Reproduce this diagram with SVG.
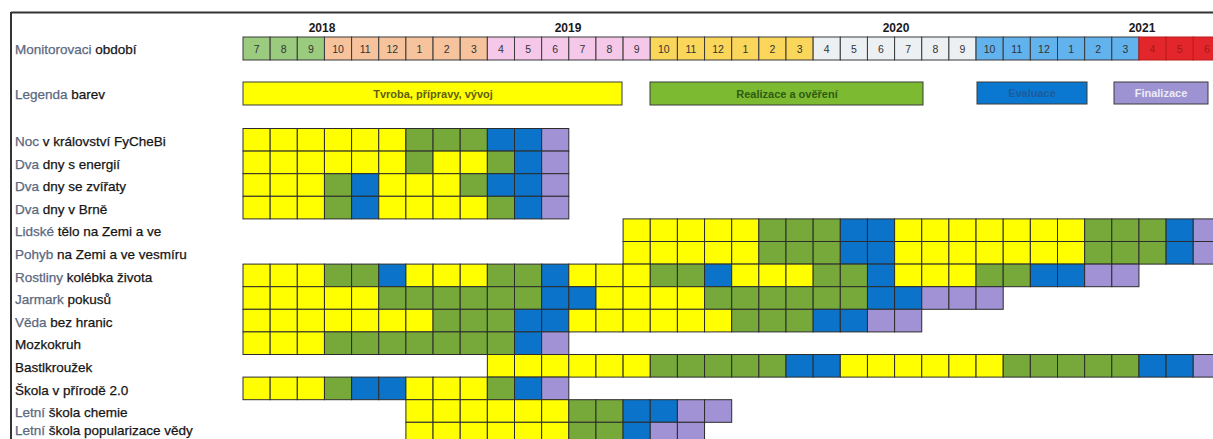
<svg xmlns="http://www.w3.org/2000/svg" width="1213" height="439" viewBox="0 0 1213 439">
<style>
text{font-family:"Liberation Sans",Arial,sans-serif}
.lbl{font-size:13.5px;fill:#151515;stroke:#151515;stroke-width:0.25}
.fw{fill:#5a6880;stroke:#5a6880}
.yr{font-size:12px;font-weight:bold;fill:#1a1a1a;text-anchor:middle}
.hn{font-size:10.5px;fill:#333;text-anchor:middle}
.hn.r{fill:#a51a1a}
.h{stroke:#3a3a3a;stroke-width:1}
.hg{fill:#9BCB7F}.ho{fill:#F7C39C}.hp{fill:#F5C8EA}.hy{fill:#FAD65A}.hw{fill:#ECF0F2}.hb{fill:#62B2EE}.hr{fill:#E2262B;stroke:#c01a1a}
.c{stroke:#2c2c2c;stroke-width:1}
.y{fill:#FFFF00}.g{fill:#76A83A}.b{fill:#0B73C9}.p{fill:#A092D4}
.leg{stroke:#3a3a3a;stroke-width:1}
.lt{font-size:11px;font-weight:bold;text-anchor:middle}
</style>
<rect width="1213" height="439" fill="#ffffff"/>
<g id="frame" stroke="#333" stroke-width="2" fill="none">
<line x1="11" y1="12.5" x2="1213" y2="12.5"/>
<line x1="11" y1="12" x2="11" y2="439"/>
</g>
<g id="years">
<text class="yr" x="322" y="32">2018</text>
<text class="yr" x="568" y="32">2019</text>
<text class="yr" x="896" y="32">2020</text>
<text class="yr" x="1142" y="32">2021</text>
</g>
<g id="monitoring">
<text class="lbl" x="15" y="53.5"><tspan class="fw">Monitorovaci</tspan> období</text>
<g class="h">
<rect class="hg" x="243" y="37" width="27.15" height="23"/>
<rect class="hg" x="270.15" y="37" width="27.15" height="23"/>
<rect class="hg" x="297.3" y="37" width="27.15" height="23"/>
<rect class="ho" x="324.45" y="37" width="27.15" height="23"/>
<rect class="ho" x="351.6" y="37" width="27.15" height="23"/>
<rect class="ho" x="378.75" y="37" width="27.15" height="23"/>
<rect class="ho" x="405.9" y="37" width="27.15" height="23"/>
<rect class="ho" x="433.05" y="37" width="27.15" height="23"/>
<rect class="ho" x="460.2" y="37" width="27.15" height="23"/>
<rect class="hp" x="487.35" y="37" width="27.15" height="23"/>
<rect class="hp" x="514.5" y="37" width="27.15" height="23"/>
<rect class="hp" x="541.65" y="37" width="27.15" height="23"/>
<rect class="hp" x="568.8" y="37" width="27.15" height="23"/>
<rect class="hp" x="595.95" y="37" width="27.15" height="23"/>
<rect class="hp" x="623.1" y="37" width="27.15" height="23"/>
<rect class="hy" x="650.25" y="37" width="27.15" height="23"/>
<rect class="hy" x="677.4" y="37" width="27.15" height="23"/>
<rect class="hy" x="704.55" y="37" width="27.15" height="23"/>
<rect class="hy" x="731.7" y="37" width="27.15" height="23"/>
<rect class="hy" x="758.85" y="37" width="27.15" height="23"/>
<rect class="hy" x="786" y="37" width="27.15" height="23"/>
<rect class="hw" x="813.15" y="37" width="27.15" height="23"/>
<rect class="hw" x="840.3" y="37" width="27.15" height="23"/>
<rect class="hw" x="867.45" y="37" width="27.15" height="23"/>
<rect class="hw" x="894.6" y="37" width="27.15" height="23"/>
<rect class="hw" x="921.75" y="37" width="27.15" height="23"/>
<rect class="hw" x="948.9" y="37" width="27.15" height="23"/>
<rect class="hb" x="976.05" y="37" width="27.15" height="23"/>
<rect class="hb" x="1003.2" y="37" width="27.15" height="23"/>
<rect class="hb" x="1030.35" y="37" width="27.15" height="23"/>
<rect class="hb" x="1057.5" y="37" width="27.15" height="23"/>
<rect class="hb" x="1084.65" y="37" width="27.15" height="23"/>
<rect class="hb" x="1111.8" y="37" width="27.15" height="23"/>
<rect class="hr" x="1138.95" y="37" width="27.15" height="23"/>
<rect class="hr" x="1166.1" y="37" width="27.15" height="23"/>
<rect class="hr" x="1193.25" y="37" width="27.15" height="23"/>
</g>
<g>
<text class="hn" x="256.6" y="52.5">7</text>
<text class="hn" x="283.7" y="52.5">8</text>
<text class="hn" x="310.9" y="52.5">9</text>
<text class="hn" x="338" y="52.5">10</text>
<text class="hn" x="365.2" y="52.5">11</text>
<text class="hn" x="392.3" y="52.5">12</text>
<text class="hn" x="419.5" y="52.5">1</text>
<text class="hn" x="446.6" y="52.5">2</text>
<text class="hn" x="473.8" y="52.5">3</text>
<text class="hn" x="500.9" y="52.5">4</text>
<text class="hn" x="528.1" y="52.5">5</text>
<text class="hn" x="555.2" y="52.5">6</text>
<text class="hn" x="582.4" y="52.5">7</text>
<text class="hn" x="609.5" y="52.5">8</text>
<text class="hn" x="636.7" y="52.5">9</text>
<text class="hn" x="663.8" y="52.5">10</text>
<text class="hn" x="691" y="52.5">11</text>
<text class="hn" x="718.1" y="52.5">12</text>
<text class="hn" x="745.3" y="52.5">1</text>
<text class="hn" x="772.4" y="52.5">2</text>
<text class="hn" x="799.6" y="52.5">3</text>
<text class="hn" x="826.7" y="52.5">4</text>
<text class="hn" x="853.9" y="52.5">5</text>
<text class="hn" x="881" y="52.5">6</text>
<text class="hn" x="908.2" y="52.5">7</text>
<text class="hn" x="935.3" y="52.5">8</text>
<text class="hn" x="962.5" y="52.5">9</text>
<text class="hn" x="989.6" y="52.5">10</text>
<text class="hn" x="1016.8" y="52.5">11</text>
<text class="hn" x="1043.9" y="52.5">12</text>
<text class="hn" x="1071.1" y="52.5">1</text>
<text class="hn" x="1098.2" y="52.5">2</text>
<text class="hn" x="1125.4" y="52.5">3</text>
<text class="hn r" x="1152.5" y="52.5">4</text>
<text class="hn r" x="1179.7" y="52.5">5</text>
<text class="hn r" x="1206.8" y="52.5">6</text>
</g>
</g>
<g id="legend">
<text class="lbl" x="15" y="99"><tspan class="fw">Legenda</tspan> barev</text>
<rect class="leg" x="243" y="82" width="379" height="23" fill="#FFFF00"/>
<text class="lt" x="433" y="97.5" fill="#5e5e12">Tvroba, přípravy, vývoj</text>
<rect class="leg" x="650" y="82" width="273" height="23" fill="#7CBA32"/>
<text class="lt" x="787" y="97.5" fill="#2f5a12">Realizace a ověření</text>
<rect class="leg" x="977" y="82" width="110" height="22" fill="#0A78D0"/>
<text class="lt" x="1032" y="97" fill="#1d5c9c">Evaluace</text>
<rect class="leg" x="1114" y="82" width="94" height="22" fill="#9D93D3"/>
<text class="lt" x="1161" y="97" fill="#ecebf6">Finalizace</text>
</g>
<g id="row-noc">
<text class="lbl" x="15" y="146"><tspan class="fw">Noc</tspan> v království FyCheBi</text>
<g class="c">
<rect class="y" x="243" y="128.5" width="27.15" height="22.6"/><rect class="y" x="270.15" y="128.5" width="27.15" height="22.6"/><rect class="y" x="297.3" y="128.5" width="27.15" height="22.6"/><rect class="y" x="324.45" y="128.5" width="27.15" height="22.6"/><rect class="y" x="351.6" y="128.5" width="27.15" height="22.6"/><rect class="y" x="378.75" y="128.5" width="27.15" height="22.6"/><rect class="g" x="405.9" y="128.5" width="27.15" height="22.6"/><rect class="g" x="433.05" y="128.5" width="27.15" height="22.6"/><rect class="g" x="460.2" y="128.5" width="27.15" height="22.6"/><rect class="b" x="487.35" y="128.5" width="27.15" height="22.6"/><rect class="b" x="514.5" y="128.5" width="27.15" height="22.6"/><rect class="p" x="541.65" y="128.5" width="27.15" height="22.6"/>
</g>
</g>
<g id="row-energie">
<text class="lbl" x="15" y="168.6"><tspan class="fw">Dva</tspan> dny s energií</text>
<g class="c">
<rect class="y" x="243" y="151.1" width="27.15" height="22.6"/><rect class="y" x="270.15" y="151.1" width="27.15" height="22.6"/><rect class="y" x="297.3" y="151.1" width="27.15" height="22.6"/><rect class="y" x="324.45" y="151.1" width="27.15" height="22.6"/><rect class="y" x="351.6" y="151.1" width="27.15" height="22.6"/><rect class="y" x="378.75" y="151.1" width="27.15" height="22.6"/><rect class="g" x="405.9" y="151.1" width="27.15" height="22.6"/><rect class="y" x="433.05" y="151.1" width="27.15" height="22.6"/><rect class="y" x="460.2" y="151.1" width="27.15" height="22.6"/><rect class="g" x="487.35" y="151.1" width="27.15" height="22.6"/><rect class="b" x="514.5" y="151.1" width="27.15" height="22.6"/><rect class="p" x="541.65" y="151.1" width="27.15" height="22.6"/>
</g>
</g>
<g id="row-zvirata">
<text class="lbl" x="15" y="191.2"><tspan class="fw">Dva</tspan> dny se zvířaty</text>
<g class="c">
<rect class="y" x="243" y="173.7" width="27.15" height="22.6"/><rect class="y" x="270.15" y="173.7" width="27.15" height="22.6"/><rect class="y" x="297.3" y="173.7" width="27.15" height="22.6"/><rect class="g" x="324.45" y="173.7" width="27.15" height="22.6"/><rect class="b" x="351.6" y="173.7" width="27.15" height="22.6"/><rect class="y" x="378.75" y="173.7" width="27.15" height="22.6"/><rect class="y" x="405.9" y="173.7" width="27.15" height="22.6"/><rect class="y" x="433.05" y="173.7" width="27.15" height="22.6"/><rect class="g" x="460.2" y="173.7" width="27.15" height="22.6"/><rect class="b" x="487.35" y="173.7" width="27.15" height="22.6"/><rect class="b" x="514.5" y="173.7" width="27.15" height="22.6"/><rect class="p" x="541.65" y="173.7" width="27.15" height="22.6"/>
</g>
</g>
<g id="row-brno">
<text class="lbl" x="15" y="213.8"><tspan class="fw">Dva</tspan> dny v Brně</text>
<g class="c">
<rect class="y" x="243" y="196.3" width="27.15" height="22.6"/><rect class="y" x="270.15" y="196.3" width="27.15" height="22.6"/><rect class="y" x="297.3" y="196.3" width="27.15" height="22.6"/><rect class="g" x="324.45" y="196.3" width="27.15" height="22.6"/><rect class="b" x="351.6" y="196.3" width="27.15" height="22.6"/><rect class="y" x="378.75" y="196.3" width="27.15" height="22.6"/><rect class="y" x="405.9" y="196.3" width="27.15" height="22.6"/><rect class="y" x="433.05" y="196.3" width="27.15" height="22.6"/><rect class="y" x="460.2" y="196.3" width="27.15" height="22.6"/><rect class="g" x="487.35" y="196.3" width="27.15" height="22.6"/><rect class="b" x="514.5" y="196.3" width="27.15" height="22.6"/><rect class="p" x="541.65" y="196.3" width="27.15" height="22.6"/>
</g>
</g>
<g id="row-lidske">
<text class="lbl" x="15" y="236.4"><tspan class="fw">Lidské</tspan> tělo na Zemi a ve</text>
<g class="c">
<rect class="y" x="623.1" y="218.9" width="27.15" height="22.6"/><rect class="y" x="650.25" y="218.9" width="27.15" height="22.6"/><rect class="y" x="677.4" y="218.9" width="27.15" height="22.6"/><rect class="y" x="704.55" y="218.9" width="27.15" height="22.6"/><rect class="y" x="731.7" y="218.9" width="27.15" height="22.6"/><rect class="g" x="758.85" y="218.9" width="27.15" height="22.6"/><rect class="g" x="786" y="218.9" width="27.15" height="22.6"/><rect class="g" x="813.15" y="218.9" width="27.15" height="22.6"/><rect class="b" x="840.3" y="218.9" width="27.15" height="22.6"/><rect class="b" x="867.45" y="218.9" width="27.15" height="22.6"/><rect class="y" x="894.6" y="218.9" width="27.15" height="22.6"/><rect class="y" x="921.75" y="218.9" width="27.15" height="22.6"/><rect class="y" x="948.9" y="218.9" width="27.15" height="22.6"/><rect class="y" x="976.05" y="218.9" width="27.15" height="22.6"/><rect class="y" x="1003.2" y="218.9" width="27.15" height="22.6"/><rect class="y" x="1030.35" y="218.9" width="27.15" height="22.6"/><rect class="y" x="1057.5" y="218.9" width="27.15" height="22.6"/><rect class="g" x="1084.65" y="218.9" width="27.15" height="22.6"/><rect class="g" x="1111.8" y="218.9" width="27.15" height="22.6"/><rect class="g" x="1138.95" y="218.9" width="27.15" height="22.6"/><rect class="b" x="1166.1" y="218.9" width="27.15" height="22.6"/><rect class="p" x="1193.25" y="218.9" width="27.15" height="22.6"/>
</g>
</g>
<g id="row-pohyb">
<text class="lbl" x="15" y="259"><tspan class="fw">Pohyb</tspan> na Zemi a ve vesmíru</text>
<g class="c">
<rect class="y" x="623.1" y="241.5" width="27.15" height="22.6"/><rect class="y" x="650.25" y="241.5" width="27.15" height="22.6"/><rect class="y" x="677.4" y="241.5" width="27.15" height="22.6"/><rect class="y" x="704.55" y="241.5" width="27.15" height="22.6"/><rect class="y" x="731.7" y="241.5" width="27.15" height="22.6"/><rect class="g" x="758.85" y="241.5" width="27.15" height="22.6"/><rect class="g" x="786" y="241.5" width="27.15" height="22.6"/><rect class="g" x="813.15" y="241.5" width="27.15" height="22.6"/><rect class="b" x="840.3" y="241.5" width="27.15" height="22.6"/><rect class="b" x="867.45" y="241.5" width="27.15" height="22.6"/><rect class="y" x="894.6" y="241.5" width="27.15" height="22.6"/><rect class="y" x="921.75" y="241.5" width="27.15" height="22.6"/><rect class="y" x="948.9" y="241.5" width="27.15" height="22.6"/><rect class="y" x="976.05" y="241.5" width="27.15" height="22.6"/><rect class="y" x="1003.2" y="241.5" width="27.15" height="22.6"/><rect class="y" x="1030.35" y="241.5" width="27.15" height="22.6"/><rect class="y" x="1057.5" y="241.5" width="27.15" height="22.6"/><rect class="g" x="1084.65" y="241.5" width="27.15" height="22.6"/><rect class="g" x="1111.8" y="241.5" width="27.15" height="22.6"/><rect class="g" x="1138.95" y="241.5" width="27.15" height="22.6"/><rect class="b" x="1166.1" y="241.5" width="27.15" height="22.6"/><rect class="p" x="1193.25" y="241.5" width="27.15" height="22.6"/>
</g>
</g>
<g id="row-rostliny">
<text class="lbl" x="15" y="281.6"><tspan class="fw">Rostliny</tspan> kolébka života</text>
<g class="c">
<rect class="y" x="243" y="264.1" width="27.15" height="22.6"/><rect class="y" x="270.15" y="264.1" width="27.15" height="22.6"/><rect class="y" x="297.3" y="264.1" width="27.15" height="22.6"/><rect class="g" x="324.45" y="264.1" width="27.15" height="22.6"/><rect class="g" x="351.6" y="264.1" width="27.15" height="22.6"/><rect class="b" x="378.75" y="264.1" width="27.15" height="22.6"/><rect class="y" x="405.9" y="264.1" width="27.15" height="22.6"/><rect class="y" x="433.05" y="264.1" width="27.15" height="22.6"/><rect class="y" x="460.2" y="264.1" width="27.15" height="22.6"/><rect class="g" x="487.35" y="264.1" width="27.15" height="22.6"/><rect class="g" x="514.5" y="264.1" width="27.15" height="22.6"/><rect class="b" x="541.65" y="264.1" width="27.15" height="22.6"/><rect class="y" x="568.8" y="264.1" width="27.15" height="22.6"/><rect class="y" x="595.95" y="264.1" width="27.15" height="22.6"/><rect class="y" x="623.1" y="264.1" width="27.15" height="22.6"/><rect class="g" x="650.25" y="264.1" width="27.15" height="22.6"/><rect class="g" x="677.4" y="264.1" width="27.15" height="22.6"/><rect class="b" x="704.55" y="264.1" width="27.15" height="22.6"/><rect class="y" x="731.7" y="264.1" width="27.15" height="22.6"/><rect class="y" x="758.85" y="264.1" width="27.15" height="22.6"/><rect class="y" x="786" y="264.1" width="27.15" height="22.6"/><rect class="g" x="813.15" y="264.1" width="27.15" height="22.6"/><rect class="g" x="840.3" y="264.1" width="27.15" height="22.6"/><rect class="b" x="867.45" y="264.1" width="27.15" height="22.6"/><rect class="y" x="894.6" y="264.1" width="27.15" height="22.6"/><rect class="y" x="921.75" y="264.1" width="27.15" height="22.6"/><rect class="y" x="948.9" y="264.1" width="27.15" height="22.6"/><rect class="g" x="976.05" y="264.1" width="27.15" height="22.6"/><rect class="g" x="1003.2" y="264.1" width="27.15" height="22.6"/><rect class="b" x="1030.35" y="264.1" width="27.15" height="22.6"/><rect class="b" x="1057.5" y="264.1" width="27.15" height="22.6"/><rect class="p" x="1084.65" y="264.1" width="27.15" height="22.6"/><rect class="p" x="1111.8" y="264.1" width="27.15" height="22.6"/>
</g>
</g>
<g id="row-jarmark">
<text class="lbl" x="15" y="304.2"><tspan class="fw">Jarmark</tspan> pokusů</text>
<g class="c">
<rect class="y" x="243" y="286.7" width="27.15" height="22.6"/><rect class="y" x="270.15" y="286.7" width="27.15" height="22.6"/><rect class="y" x="297.3" y="286.7" width="27.15" height="22.6"/><rect class="y" x="324.45" y="286.7" width="27.15" height="22.6"/><rect class="y" x="351.6" y="286.7" width="27.15" height="22.6"/><rect class="g" x="378.75" y="286.7" width="27.15" height="22.6"/><rect class="g" x="405.9" y="286.7" width="27.15" height="22.6"/><rect class="g" x="433.05" y="286.7" width="27.15" height="22.6"/><rect class="g" x="460.2" y="286.7" width="27.15" height="22.6"/><rect class="g" x="487.35" y="286.7" width="27.15" height="22.6"/><rect class="g" x="514.5" y="286.7" width="27.15" height="22.6"/><rect class="b" x="541.65" y="286.7" width="27.15" height="22.6"/><rect class="b" x="568.8" y="286.7" width="27.15" height="22.6"/><rect class="y" x="595.95" y="286.7" width="27.15" height="22.6"/><rect class="y" x="623.1" y="286.7" width="27.15" height="22.6"/><rect class="y" x="650.25" y="286.7" width="27.15" height="22.6"/><rect class="y" x="677.4" y="286.7" width="27.15" height="22.6"/><rect class="g" x="704.55" y="286.7" width="27.15" height="22.6"/><rect class="g" x="731.7" y="286.7" width="27.15" height="22.6"/><rect class="g" x="758.85" y="286.7" width="27.15" height="22.6"/><rect class="g" x="786" y="286.7" width="27.15" height="22.6"/><rect class="g" x="813.15" y="286.7" width="27.15" height="22.6"/><rect class="g" x="840.3" y="286.7" width="27.15" height="22.6"/><rect class="b" x="867.45" y="286.7" width="27.15" height="22.6"/><rect class="b" x="894.6" y="286.7" width="27.15" height="22.6"/><rect class="p" x="921.75" y="286.7" width="27.15" height="22.6"/><rect class="p" x="948.9" y="286.7" width="27.15" height="22.6"/><rect class="p" x="976.05" y="286.7" width="27.15" height="22.6"/>
</g>
</g>
<g id="row-veda">
<text class="lbl" x="15" y="326.8"><tspan class="fw">Věda</tspan> bez hranic</text>
<g class="c">
<rect class="y" x="243" y="309.3" width="27.15" height="22.6"/><rect class="y" x="270.15" y="309.3" width="27.15" height="22.6"/><rect class="y" x="297.3" y="309.3" width="27.15" height="22.6"/><rect class="y" x="324.45" y="309.3" width="27.15" height="22.6"/><rect class="y" x="351.6" y="309.3" width="27.15" height="22.6"/><rect class="y" x="378.75" y="309.3" width="27.15" height="22.6"/><rect class="y" x="405.9" y="309.3" width="27.15" height="22.6"/><rect class="g" x="433.05" y="309.3" width="27.15" height="22.6"/><rect class="g" x="460.2" y="309.3" width="27.15" height="22.6"/><rect class="g" x="487.35" y="309.3" width="27.15" height="22.6"/><rect class="b" x="514.5" y="309.3" width="27.15" height="22.6"/><rect class="b" x="541.65" y="309.3" width="27.15" height="22.6"/><rect class="y" x="568.8" y="309.3" width="27.15" height="22.6"/><rect class="y" x="595.95" y="309.3" width="27.15" height="22.6"/><rect class="y" x="623.1" y="309.3" width="27.15" height="22.6"/><rect class="y" x="650.25" y="309.3" width="27.15" height="22.6"/><rect class="y" x="677.4" y="309.3" width="27.15" height="22.6"/><rect class="y" x="704.55" y="309.3" width="27.15" height="22.6"/><rect class="g" x="731.7" y="309.3" width="27.15" height="22.6"/><rect class="g" x="758.85" y="309.3" width="27.15" height="22.6"/><rect class="g" x="786" y="309.3" width="27.15" height="22.6"/><rect class="b" x="813.15" y="309.3" width="27.15" height="22.6"/><rect class="b" x="840.3" y="309.3" width="27.15" height="22.6"/><rect class="p" x="867.45" y="309.3" width="27.15" height="22.6"/><rect class="p" x="894.6" y="309.3" width="27.15" height="22.6"/>
</g>
</g>
<g id="row-mozkokruh">
<text class="lbl" x="15" y="349.4">Mozkokruh</text>
<g class="c">
<rect class="y" x="243" y="331.9" width="27.15" height="22.6"/><rect class="y" x="270.15" y="331.9" width="27.15" height="22.6"/><rect class="y" x="297.3" y="331.9" width="27.15" height="22.6"/><rect class="g" x="324.45" y="331.9" width="27.15" height="22.6"/><rect class="g" x="351.6" y="331.9" width="27.15" height="22.6"/><rect class="g" x="378.75" y="331.9" width="27.15" height="22.6"/><rect class="g" x="405.9" y="331.9" width="27.15" height="22.6"/><rect class="g" x="433.05" y="331.9" width="27.15" height="22.6"/><rect class="g" x="460.2" y="331.9" width="27.15" height="22.6"/><rect class="g" x="487.35" y="331.9" width="27.15" height="22.6"/><rect class="b" x="514.5" y="331.9" width="27.15" height="22.6"/><rect class="p" x="541.65" y="331.9" width="27.15" height="22.6"/>
</g>
</g>
<g id="row-bastl">
<text class="lbl" x="15" y="372">Bastlkroužek</text>
<g class="c">
<rect class="y" x="487.35" y="354.5" width="27.15" height="22.6"/><rect class="y" x="514.5" y="354.5" width="27.15" height="22.6"/><rect class="y" x="541.65" y="354.5" width="27.15" height="22.6"/><rect class="y" x="568.8" y="354.5" width="27.15" height="22.6"/><rect class="y" x="595.95" y="354.5" width="27.15" height="22.6"/><rect class="y" x="623.1" y="354.5" width="27.15" height="22.6"/><rect class="g" x="650.25" y="354.5" width="27.15" height="22.6"/><rect class="g" x="677.4" y="354.5" width="27.15" height="22.6"/><rect class="g" x="704.55" y="354.5" width="27.15" height="22.6"/><rect class="g" x="731.7" y="354.5" width="27.15" height="22.6"/><rect class="g" x="758.85" y="354.5" width="27.15" height="22.6"/><rect class="b" x="786" y="354.5" width="27.15" height="22.6"/><rect class="b" x="813.15" y="354.5" width="27.15" height="22.6"/><rect class="y" x="840.3" y="354.5" width="27.15" height="22.6"/><rect class="y" x="867.45" y="354.5" width="27.15" height="22.6"/><rect class="y" x="894.6" y="354.5" width="27.15" height="22.6"/><rect class="y" x="921.75" y="354.5" width="27.15" height="22.6"/><rect class="y" x="948.9" y="354.5" width="27.15" height="22.6"/><rect class="y" x="976.05" y="354.5" width="27.15" height="22.6"/><rect class="g" x="1003.2" y="354.5" width="27.15" height="22.6"/><rect class="g" x="1030.35" y="354.5" width="27.15" height="22.6"/><rect class="g" x="1057.5" y="354.5" width="27.15" height="22.6"/><rect class="g" x="1084.65" y="354.5" width="27.15" height="22.6"/><rect class="g" x="1111.8" y="354.5" width="27.15" height="22.6"/><rect class="b" x="1138.95" y="354.5" width="27.15" height="22.6"/><rect class="b" x="1166.1" y="354.5" width="27.15" height="22.6"/><rect class="p" x="1193.25" y="354.5" width="27.15" height="22.6"/>
</g>
</g>
<g id="row-skola">
<text class="lbl" x="15" y="394.6">Škola v přírodě 2.0</text>
<g class="c">
<rect class="y" x="243" y="377.1" width="27.15" height="22.6"/><rect class="y" x="270.15" y="377.1" width="27.15" height="22.6"/><rect class="y" x="297.3" y="377.1" width="27.15" height="22.6"/><rect class="g" x="324.45" y="377.1" width="27.15" height="22.6"/><rect class="b" x="351.6" y="377.1" width="27.15" height="22.6"/><rect class="b" x="378.75" y="377.1" width="27.15" height="22.6"/><rect class="y" x="405.9" y="377.1" width="27.15" height="22.6"/><rect class="y" x="433.05" y="377.1" width="27.15" height="22.6"/><rect class="y" x="460.2" y="377.1" width="27.15" height="22.6"/><rect class="g" x="487.35" y="377.1" width="27.15" height="22.6"/><rect class="b" x="514.5" y="377.1" width="27.15" height="22.6"/><rect class="p" x="541.65" y="377.1" width="27.15" height="22.6"/>
</g>
</g>
<g id="row-chemie">
<text class="lbl" x="15" y="417.2"><tspan class="fw">Letní</tspan> škola chemie</text>
<g class="c">
<rect class="y" x="405.9" y="399.7" width="27.15" height="22.6"/><rect class="y" x="433.05" y="399.7" width="27.15" height="22.6"/><rect class="y" x="460.2" y="399.7" width="27.15" height="22.6"/><rect class="y" x="487.35" y="399.7" width="27.15" height="22.6"/><rect class="y" x="514.5" y="399.7" width="27.15" height="22.6"/><rect class="y" x="541.65" y="399.7" width="27.15" height="22.6"/><rect class="g" x="568.8" y="399.7" width="27.15" height="22.6"/><rect class="g" x="595.95" y="399.7" width="27.15" height="22.6"/><rect class="b" x="623.1" y="399.7" width="27.15" height="22.6"/><rect class="b" x="650.25" y="399.7" width="27.15" height="22.6"/><rect class="p" x="677.4" y="399.7" width="27.15" height="22.6"/><rect class="p" x="704.55" y="399.7" width="27.15" height="22.6"/>
</g>
</g>
<g id="row-popularizace">
<text class="lbl" x="15" y="435"><tspan class="fw">Letní</tspan> škola popularizace vědy</text>
<g class="c">
<rect class="y" x="405.9" y="422.3" width="27.15" height="22.6"/><rect class="y" x="433.05" y="422.3" width="27.15" height="22.6"/><rect class="y" x="460.2" y="422.3" width="27.15" height="22.6"/><rect class="y" x="487.35" y="422.3" width="27.15" height="22.6"/><rect class="y" x="514.5" y="422.3" width="27.15" height="22.6"/><rect class="y" x="541.65" y="422.3" width="27.15" height="22.6"/><rect class="g" x="568.8" y="422.3" width="27.15" height="22.6"/><rect class="g" x="595.95" y="422.3" width="27.15" height="22.6"/><rect class="b" x="623.1" y="422.3" width="27.15" height="22.6"/><rect class="p" x="650.25" y="422.3" width="27.15" height="22.6"/><rect class="p" x="677.4" y="422.3" width="27.15" height="22.6"/>
</g>
</g>
<g id="connectors"></g>
</svg>
